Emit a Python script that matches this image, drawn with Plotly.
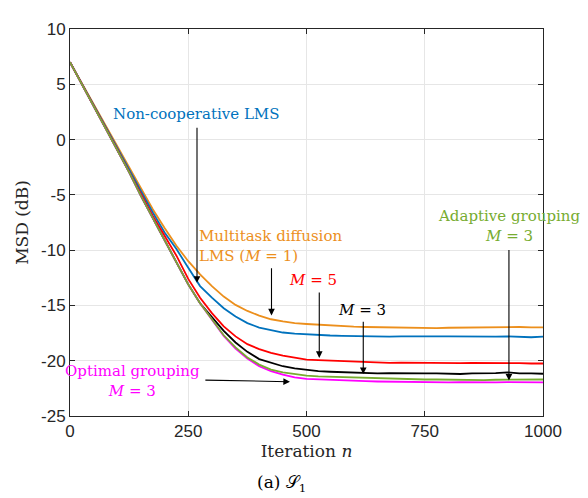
import plotly.graph_objects as go

iterations = list(range(0, 1001, 25))

non_coop_lms = [7.0, 5.05, 3.1, 1.15, -0.8, -2.75, -4.7, -6.6, -8.4, -9.9, -11.6, -13.25, -14.3, -15.25, -16.0,
                -16.6, -17.0, -17.25, -17.45, -17.55, -17.62, -17.68, -17.72, -17.75, -17.78, -17.8, -17.8, -17.82,
                -17.8, -17.82, -17.82, -17.8, -17.8, -17.82, -17.8, -17.8, -17.82, -17.8, -17.85, -17.88, -17.82]
multitask_m1 = [7.0, 5.1, 3.15, 1.2, -0.7, -2.6, -4.5, -6.3, -8.0, -9.6, -11.0, -12.2, -13.25, -14.2, -14.95,
                -15.5, -15.92, -16.25, -16.45, -16.6, -16.68, -16.75, -16.82, -16.88, -16.92, -16.95, -16.97, -17.0,
                -17.02, -17.05, -17.05, -17.05, -17.02, -17.0, -16.98, -17.0, -17.0, -16.98, -16.95, -16.98, -16.98]
m5 = [7.0, 5.05, 3.1, 1.1, -0.9, -2.9, -4.9, -6.9, -8.7, -10.5, -12.6, -14.3, -15.7, -16.9, -17.8,
      -18.5, -18.95, -19.3, -19.55, -19.75, -19.9, -19.95, -20.0, -20.05, -20.1, -20.15, -20.2, -20.2,
      -20.18, -20.2, -20.22, -20.2, -20.2, -20.22, -20.2, -20.2, -20.18, -20.2, -20.22, -20.25, -20.25]
m3 = [7.0, 5.0, 3.0, 1.05, -0.95, -2.95, -5.1, -7.1, -9.1, -11.1, -13.1, -14.8, -16.1, -17.3, -18.35,
      -19.2, -19.85, -20.2, -20.5, -20.7, -20.85, -20.95, -21.0, -21.05, -21.1, -21.15, -21.15, -21.12,
      -21.15, -21.18, -21.15, -21.15, -21.18, -21.2, -21.15, -21.15, -21.12, -21.05, -21.15, -21.15, -21.18]
adaptive_m3 = [7.0, 5.0, 3.0, 1.05, -0.95, -2.95, -5.1, -7.1, -9.1, -11.1, -13.1, -14.8, -16.2, -17.7, -18.8,
               -19.7, -20.35, -20.8, -21.05, -21.2, -21.35, -21.42, -21.45, -21.5, -21.55, -21.6, -21.6, -21.65,
               -21.65, -21.7, -21.7, -21.7, -21.72, -21.7, -21.72, -21.75, -21.72, -21.7, -21.72, -21.7, -21.7]
optimal_m3 = [7.0, 5.0, 3.0, 1.05, -0.95, -2.95, -5.1, -7.1, -9.1, -11.1, -13.1, -14.8, -16.25, -17.75, -18.9,
              -19.8, -20.5, -20.95, -21.25, -21.5, -21.65, -21.7, -21.75, -21.8, -21.82, -21.85, -21.88, -21.9,
              -21.9, -21.92, -21.93, -21.93, -21.95, -21.93, -21.95, -21.95, -21.95, -21.93, -21.95, -21.97, -21.95]

x_ticks = [0, 250, 500, 750, 1000]
x_ticktext = ["0", "250", "500", "750", "1000"]
y_ticks = [-25, -20, -15, -10, -5, 0, 5, 10]
y_ticktext = ["-25", "-20", "-15", "-10", "-5", "0", "5", "10"]

BLUE = "#0072BD"
ORANGE = "#EC8F1C"
RED = "#FF0000"
BLACK = "#000000"
GREEN = "#77AC30"
MAGENTA = "#FF00FF"

order = [("Multitask", multitask_m1, ORANGE), ("Non-coop", non_coop_lms, BLUE), ("M5", m5, RED),
         ("M3", m3, BLACK), ("Optimal", optimal_m3, MAGENTA), ("Adaptive", adaptive_m3, GREEN)]

fig = go.Figure()
for name, vals, col in order:
    fig.add_trace(go.Scatter(x=iterations, y=vals, mode="lines", name=name,
                             line=dict(color=col, width=1.8), showlegend=False))

SERIF = "DejaVu Serif"
AX = "#262626"

annotations = []
def label(x, y, text, color, size=15, align="center", xanchor="center"):
    annotations.append(dict(x=x, y=y, xref="x", yref="y", text=text, showarrow=False,
                            font=dict(family=SERIF, size=size, color=color), align=align,
                            xanchor=xanchor, yanchor="middle"))

def arrow(x0, y0, x1, y1):
    annotations.append(dict(x=x1, y=y1, ax=x0, ay=y0, xref="x", yref="y", axref="x", ayref="y",
                            text="", showarrow=True, arrowhead=2, arrowsize=1.2, arrowwidth=1.1,
                            arrowcolor="black"))

label(266, 2.3, "Non-cooperative LMS", BLUE)
arrow(268.5, 1.2, 268.5, -12.95)
label(268, -9.6, "Multitask diffusion<br>LMS (<i>M</i> = 1)", ORANGE, align="left", xanchor="left")
arrow(426, -11.5, 426, -15.9)
label(514, -12.7, "<i>M</i> = 5", RED)
arrow(527, -13.7, 527, -19.75)
label(618, -15.4, "<i>M</i> = 3", BLACK)
arrow(620, -16.35, 620, -21.2)
label(928, -7.85, "Adaptive grouping<br><i>M</i> = 3", GREEN)
arrow(928, -9.85, 928, -21.8)
label(132, -21.8, "Optimal grouping<br><i>M</i> = 3", MAGENTA)
arrow(283, -21.75, 465, -21.9)

annotations.append(dict(x=0.448, y=-0.174, xref="paper", yref="paper", text="(a) 𝒮<sub>1</sub>",
                        showarrow=False, font=dict(family=SERIF, size=17, color="black"),
                        xanchor="center", yanchor="middle"))

# page body has an 8px margin, so the figure is sized to fit the 588x498 window
fig.update_layout(
    width=580, height=490,
    margin=dict(l=62, r=45, t=13, b=82),
    paper_bgcolor="white", plot_bgcolor="white",
    annotations=annotations,
    xaxis=dict(range=[0, 1000], tickvals=x_ticks, ticktext=x_ticktext, showgrid=True,
               gridcolor="#E6E6E6", gridwidth=1, zeroline=False, showline=True, linecolor=AX,
               linewidth=1, mirror="ticks", ticks="inside", ticklen=5, tickcolor=AX,
               tickfont=dict(family="Liberation Sans", size=17, color=AX),
               title=dict(text="Iteration <i>n</i>", font=dict(family=SERIF, size=17, color=AX), standoff=4)),
    yaxis=dict(range=[-25, 10], tickvals=y_ticks, ticktext=y_ticktext, showgrid=True,
               gridcolor="#E6E6E6", gridwidth=1, zeroline=False, showline=True, linecolor=AX,
               linewidth=1, mirror="ticks", ticks="inside", ticklen=5, tickcolor=AX,
               tickfont=dict(family="Liberation Sans", size=17, color=AX),
               title=dict(text="MSD (dB)", font=dict(family=SERIF, size=17, color=AX), standoff=8)),
)

fig.write_html("out.html")
